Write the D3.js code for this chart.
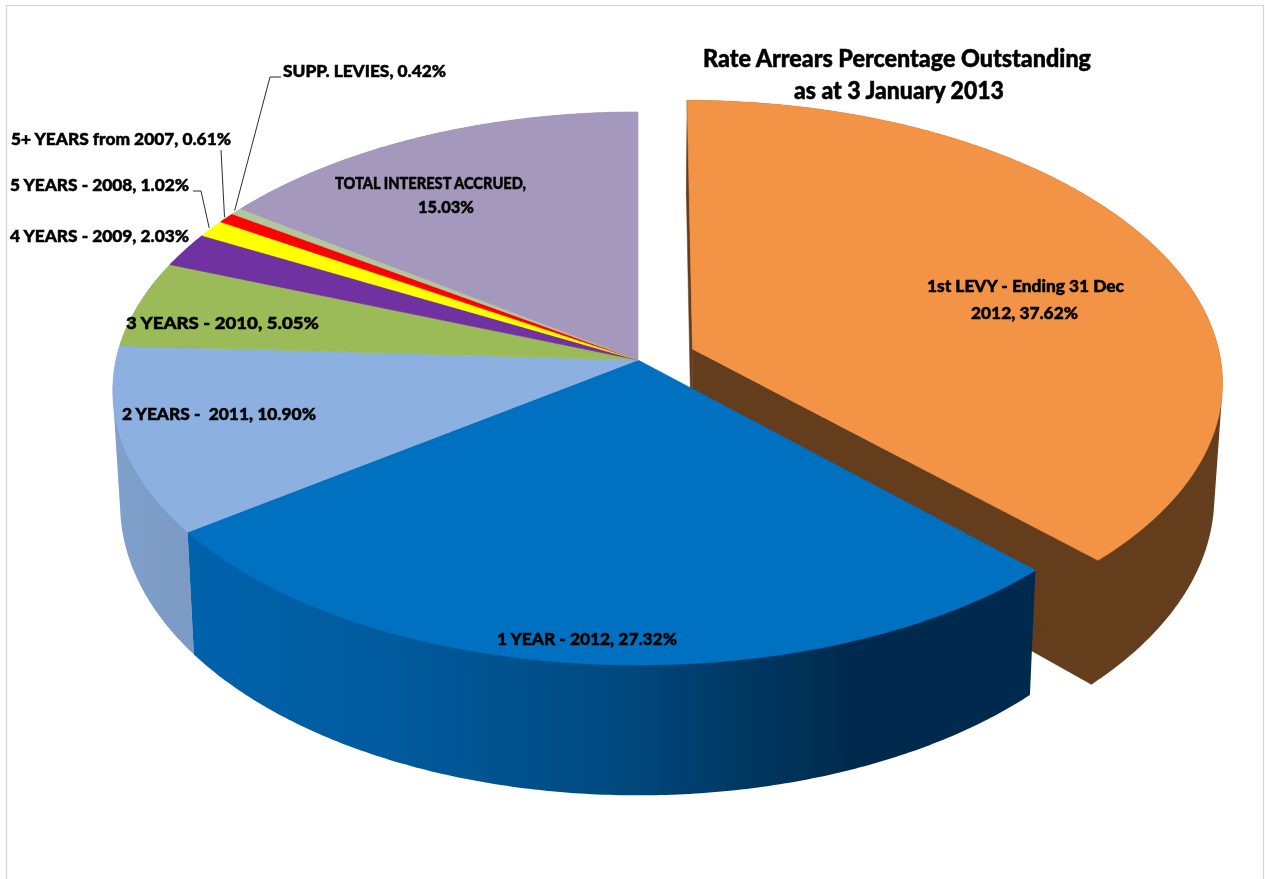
<!DOCTYPE html>
<html><head><meta charset="utf-8">
<script src="https://cdn.jsdelivr.net/npm/d3@7/dist/d3.min.js"></script>
<style>html,body{margin:0;padding:0;background:#fff}svg{display:block}
text{font-family:Lato,"Open Sans",sans-serif;font-weight:900;fill:#050505;stroke:#050505;stroke-width:.5px}</style>
</head><body><svg id="c" width="1265" height="879"></svg>
<script>
// ---- data ----
const categories = ["1st LEVY - Ending 31 Dec 2012","1 YEAR - 2012","2 YEARS -  2011","3 YEARS - 2010","4 YEARS - 2009","5 YEARS - 2008","5+ YEARS from 2007","SUPP. LEVIES","TOTAL INTEREST ACCRUED"];
const values = [37.62,27.32,10.90,5.05,2.03,1.02,0.61,0.42,15.03];
const titleLines = ["Rate Arrears Percentage Outstanding","as at 3 January 2013"];
const topColors = ["#f39345","#0070c0","#8cb0df","#9bbb59","#7030a0","#ffff00","#ff0000","#b3c69c","#a598bd"];
const wallColors = ["#643c1c","url(#blueWall)","url(#lightWall)","#7a8f4a","#542478","#bfbf00","#bf0000","#8a9a78","#7d7390"];

// ---- layout ----
const W=1265,H=879,cx=638,cy=360,Rx=522,Ry=273.6,kx=0.11,ky=0.103,lowX=0.986,lowY=1.06,lowDrop=112;
const exU=0.105,exV=-0.04,exR=1.012;
const svg=d3.select("#c");
const defs=svg.append("defs");
function grad(id,stops,x1,x2){
  const g=defs.append("linearGradient").attr("id",id).attr("gradientUnits","userSpaceOnUse")
    .attr("x1",x1).attr("x2",x2).attr("y1",0).attr("y2",0);
  stops.forEach(s=>g.append("stop").attr("offset",s[0]).attr("stop-color",s[1]));
}
grad("blueWall",[[0,"#0062ab"],[.25,"#005a9c"],[.5,"#004a80"],[.68,"#00355f"],[.78,"#002b4d"],[1,"#002b4d"]],190,1036);
grad("lightWall",[[0,"#7fa1cc"],[1,"#7b9ac2"]],110,195);
function soft(id,sd){defs.append("filter").attr("id",id).attr("x","-5%").attr("y","-20%").attr("width","110%").attr("height","140%")
  .append("feGaussianBlur").attr("stdDeviation",sd);}
soft("softT",0.35); soft("softP",0.4);

const scaleU=d3.scaleLinear().domain([-1,1]).range([-Rx,Rx]);
const scaleV=d3.scaleLinear().domain([-1,1]).range([-Ry,Ry]);
function project(u,v,low){
  let x=scaleU(u)/(1-kx*v),y=scaleV(v)/(1-ky*v);
  if(low){x*=lowX;y=y*lowY+lowDrop;}
  return [cx+x,cy+y];
}
const line=d3.line();
const pie=d3.pie().sort(null).startAngle(0).endAngle(2*Math.PI)(values);
function rim(i,d,low){
  const ex=i===0, ox=ex?exU:0, oy=ex?exV:0, r=ex?exR:1;
  const n=Math.max(2,Math.ceil((d.endAngle-d.startAngle)/0.01));
  return d3.range(n+1).map(j=>{
    const a=d.startAngle+(d.endAngle-d.startAngle)*j/n;
    return project(ox+r*Math.sin(a),oy-r*Math.cos(a),low);
  });
}
const apex=(i,low)=>i===0?project(exU,exV,low):project(0,0,low);
function fillWall(g,pts,f,sw){g.append("path").attr("d",line(pts)+"Z").attr("fill",f).attr("stroke",sw?f:"none").attr("stroke-width",sw);}
function drawWalls(g,d,i){
  const top=rim(i,d,false),bot=rim(i,d,true),f=wallColors[i];
  if(i===0){
    fillWall(g,[apex(i,false),top[0],bot[0],apex(i,true)],f,.5);
    fillWall(g,[apex(i,false),top[top.length-1],bot[bot.length-1],apex(i,true)],f,.5);
  }
  fillWall(g,d3.polygonHull(top.concat(bot)),f,0);
}
function drawTop(g,d,i){
  g.append("path").attr("d",line([apex(i,false)].concat(rim(i,d,false)))+"Z").attr("fill",topColors[i]).attr("stroke",topColors[i]).attr("stroke-width",.6);
}
// frame
svg.append("path").attr("d",line([[6.5,H],[6.5,5.5],[1263.5,5.5],[1263.5,H]])).attr("fill","none").attr("stroke","#d4d4d4").attr("stroke-width",1.2);

const gPie=svg.append("g").attr("filter","url(#softP)");
drawWalls(gPie,pie[0],0); drawTop(gPie,pie[0],0);
[8,7,6,5,4,3,2,1].forEach(i=>drawWalls(gPie,pie[i],i));
[1,2,3,4,5,6,7,8].forEach(i=>drawTop(gPie,pie[i],i));

// leader lines: from the rim of a slice to its label
const leaderBends=[[7,[[270,77],[281,77]]],[6,[[221,150]]],[5,[[201,191],[193,191]]]];
leaderBends.forEach(([i,pts])=>{
  const d=pie[i],m=(d.startAngle+d.endAngle)/2;
  const p=project(Math.sin(m)*1.005,-Math.cos(m)*1.005,false);
  svg.append("path").attr("d",line([p].concat(pts))).attr("fill","none").attr("stroke","#2c2c2c").attr("stroke-width",1);
});

// labels
const label=i=>`${categories[i]}, ${values[i].toFixed(2)}%`;
const wrapAt={0:"1st LEVY - Ending 31 Dec",8:"TOTAL INTEREST ACCRUED,"};
const S=17;
const placed=[ // text, left, right, baseline, size
  [wrapAt[0],927,1124,292,S],
  [label(0).slice(wrapAt[0].length+1),971,1078,319,S],
  [label(1),497,677,645,S],
  [label(2),122,316,420,S],
  [label(3),126,319,329,S],
  [label(4),10,189,242,S],
  [label(5),10,189,191,S],
  [label(6),11,231,145,S],
  [label(7),283,446,77,S],
  [wrapAt[8],335,526,189,S],
  [label(8).slice(wrapAt[8].length+1),418,474,213,S],
  [titleLines[0],703,1091,67,24],
  [titleLines[1],794,1004,99,24]
];
const gT=svg.append("g").attr("filter","url(#softT)");
placed.forEach(([t,l,r,b,s])=>{
  gT.append("text").attr("x",l).attr("y",b).attr("font-size",s)
    .attr("textLength",r-l).attr("lengthAdjust","spacingAndGlyphs")
    .style("white-space","pre").text(t);
});
</script></body></html>
